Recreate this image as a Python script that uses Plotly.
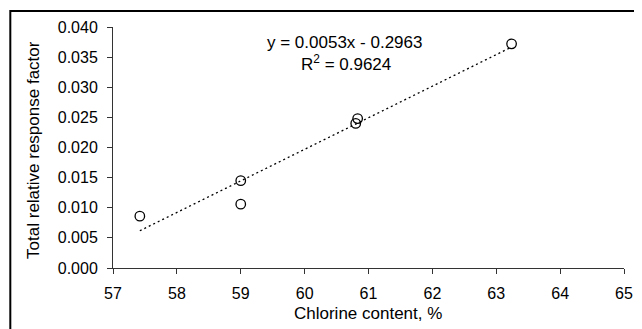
import numpy as np
import plotly.graph_objects as go

chlorine = [57.42, 59.0, 59.0, 60.80, 60.83, 63.24]
response = [0.0086, 0.0145, 0.0106, 0.0240, 0.0248, 0.0372]
x_ticks = [57, 58, 59, 60, 61, 62, 63, 64, 65]
y_ticks = [0.000, 0.005, 0.010, 0.015, 0.020, 0.025, 0.030, 0.035, 0.040]
eq_text = "y = 0.0053x - 0.2963"
r2_text = "R<sup>2</sup> = 0.9624"
x_title = "Chlorine content, %"
y_title = "Total relative response factor"

slope, intercept = np.polyfit(chlorine, response, 1)
tx = [min(chlorine), max(chlorine)]
ty = [slope * v + intercept for v in tx]

FONT = "Liberation Sans, Arial, sans-serif"
OFF = 8  # page body margin
W, H = 642 - OFF, 329 - OFF
L, T = 113 - OFF, 27 - OFF
R = W - (633 - OFF)
B = H - (268 - OFF)
pw, ph = W - L - R, H - T - B


def px(xp):
    return (xp - OFF - L) / pw


def py(yp):
    return (H - B - (yp - OFF)) / ph


fig = go.Figure()
fig.add_trace(go.Scatter(x=tx, y=ty, mode="lines",
                         line=dict(color="black", width=1.3, dash="2px,3px"),
                         hoverinfo="skip", showlegend=False))
fig.add_trace(go.Scatter(x=chlorine, y=response, mode="markers",
                         marker=dict(symbol="circle-open", size=9.5, color="black",
                                     line=dict(color="black", width=1.3)),
                         showlegend=False))

axis_common = dict(showgrid=False, zeroline=False, showline=True,
                   linecolor="#333333", linewidth=1, ticks="outside",
                   ticklen=5, tickcolor="#333333", tickwidth=1,
                   tickfont=dict(family=FONT, size=16, color="black"))
fig.update_xaxes(range=[57, 65], tickvals=x_ticks,
                 ticktext=[str(v) for v in x_ticks],
                 ticklabelstandoff=6, **axis_common)
fig.update_yaxes(range=[0, 0.040], tickvals=y_ticks,
                 ticktext=[f"{v:.3f}" for v in y_ticks],
                 ticklabelstandoff=6, **axis_common)

ann_font = dict(family=FONT, size=17, color="black")
anc = dict(xref="paper", yref="paper", showarrow=False, font=ann_font,
           xanchor="center", yanchor="middle")
fig.add_annotation(x=px(349), y=py(42), text=eq_text, **anc)
fig.add_annotation(x=px(350), y=py(63), text=r2_text, **anc)
fig.add_annotation(x=px(372.5), y=py(313), text=x_title, **anc)
fig.add_annotation(x=px(31.5), y=py(150), text=y_title, textangle=-90, **anc)

# outer chart-area border (left and top visible)
fig.add_shape(type="rect", xref="paper", yref="paper",
              x0=px(8.5), x1=px(700), y0=py(400), y1=py(11),
              line=dict(color="black", width=2), layer="below")

fig.update_layout(width=W, height=H, margin=dict(l=L, r=R, t=T, b=B),
                  paper_bgcolor="white", plot_bgcolor="white",
                  font=dict(family=FONT, color="black"))
fig.write_html("out.html")
